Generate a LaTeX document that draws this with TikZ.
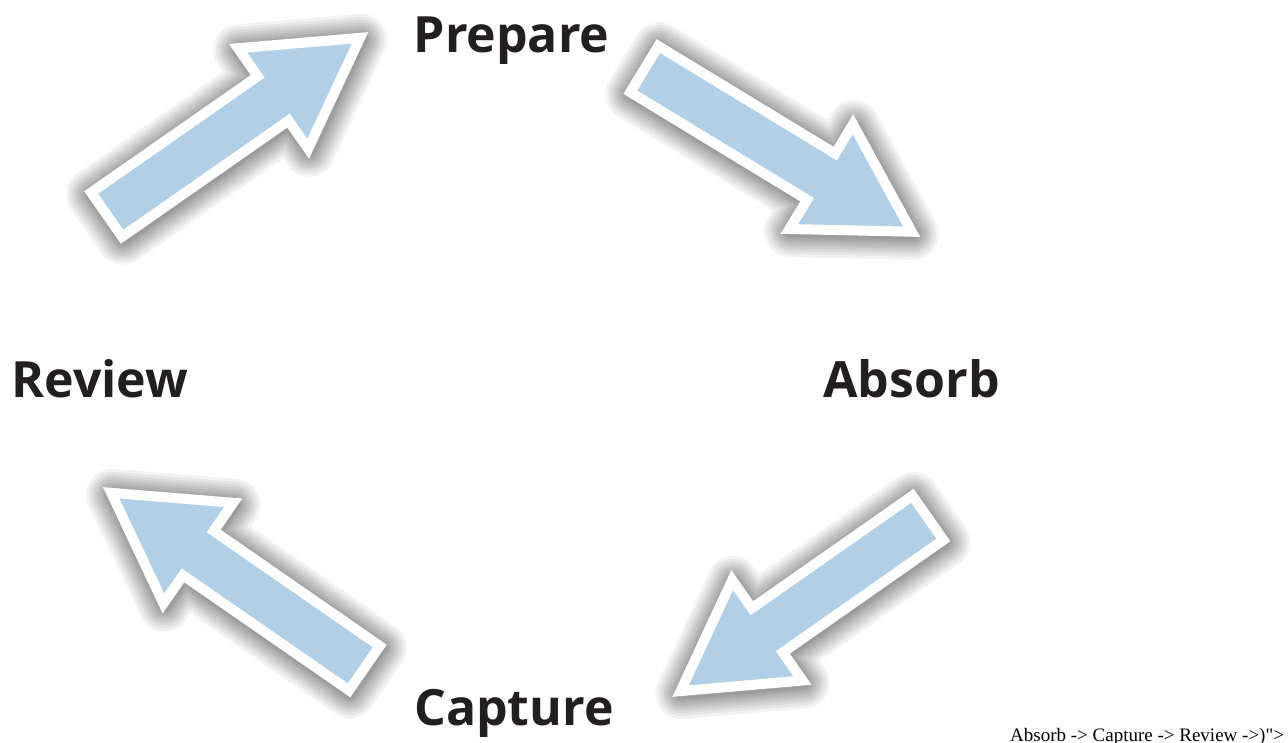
\documentclass[tikz,border=0pt]{standalone}
\usepackage{fontspec}
\setmainfont{Open Sans}
\newfontfamily\notefont{Liberation Serif}
\definecolor{arrowblue}{HTML}{B1D0E8}
\definecolor{labelblack}{HTML}{231F20}
\tikzset{
  bigarrow/.style={fill=arrowblue, draw=white, line width=10pt, line join=miter, miter limit=10},
  arrowglow/.style={draw=black, draw opacity=0.05, line join=round},
  stagelabel/.style={font=\bfseries\fontsize{50}{60}\selectfont, text=labelblack, inner sep=0pt, anchor=base},
  notelabel/.style={font=\notefont\fontsize{19}{21}\selectfont, text=black, inner sep=0pt, anchor=base west},
}
% #1,#2 tail centre, #3 angle, #4 length
\newcommand{\cyclearrow}[4]{%
  \begin{scope}[shift={({#1+1},{#2+2})}, rotate=#3]
    \foreach \w in {52,46,40,35,30,25,20,16,12}
      \path[arrowglow, line width=\w pt] (5,-27) -- ({#4-116},-27) -- ({#4-116},-61.3) -- ({#4-10},0)
        -- ({#4-116},61.3) -- ({#4-116},27) -- (5,27) -- cycle;
  \end{scope}
  \begin{scope}[shift={(#1,#2)}, rotate=#3]
    \path[bigarrow] (5,-27) -- ({#4-116},-27) -- ({#4-116},-61.3) -- ({#4-10},0)
      -- ({#4-116},61.3) -- ({#4-116},27) -- (5,27) -- cycle;
  \end{scope}}
\begin{document}
\begin{tikzpicture}[x=1pt,y=-1pt]
\useasboundingbox[fill=white] (0,0) rectangle (1288,743);
% arrows (tail centre x, y, angle, length)
\cyclearrow{102.5}{217.5}{34.9}{324}
\cyclearrow{640}{66.5}{-31.3}{328}
\cyclearrow{932}{515}{215}{317}
\cyclearrow{368.5}{671}{145.3}{323}
% labels
\node[stagelabel] (prepare) at (511.5,53) {Prepare};
\node[stagelabel] (absorb) at (911.5,397) {Absorb};
\node[stagelabel] (review) at (100,397) {Review};
\node[stagelabel] (capture) at (514,725) {Capture};
\node[notelabel] (note) at (1010,741) {Absorb -> Capture -> Review ->)">};
\end{tikzpicture}
\end{document}
